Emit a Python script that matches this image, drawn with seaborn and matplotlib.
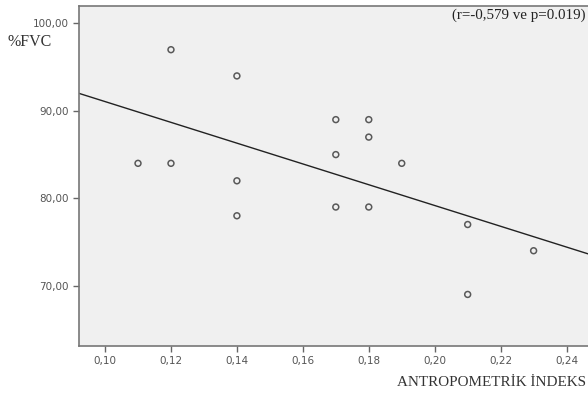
import matplotlib
matplotlib.use("Agg")
import matplotlib.pyplot as plt
import pandas as pd
import seaborn as sns

# antropometrik indeks vs %FVC
indeks = [0.11, 0.12, 0.12, 0.14, 0.14, 0.14, 0.17, 0.17, 0.17,
          0.18, 0.18, 0.18, 0.19, 0.21, 0.21, 0.23]
fvc = [84, 97, 84, 94, 82, 78, 89, 85, 79,
       89, 87, 79, 84, 77, 69, 74]
x_ticks = [0.10, 0.12, 0.14, 0.16, 0.18, 0.20, 0.22, 0.24]
y_ticks = [70, 80, 90, 100]

df = pd.DataFrame({"indeks": indeks, "fvc": fvc})

sns.set_style("ticks")
serif = ["Liberation Serif", "DejaVu Serif"]

fig = plt.figure(figsize=(5.88, 3.94), dpi=100)
ax = fig.add_axes([79 / 588, 48 / 394, 1 - 79 / 588, 340 / 394])
ax.set_facecolor("#f0f0f0")
# limits first so the fit line spans the whole axis
ax.set_xlim(0.0921, 0.2465)
ax.set_ylim(63.1, 102.0)

sns.regplot(data=df, x="indeks", y="fvc", ax=ax, ci=None, truncate=False,
            scatter_kws=dict(s=18, facecolors="none", edgecolors="#333333", linewidths=1.1),
            line_kws=dict(color="#222222", linewidth=1.0))

ax.set_xlim(0.0921, 0.2465)
ax.set_ylim(63.1, 102.0)
ax.set_xticks(x_ticks)
ax.set_xticklabels([f"{v:.2f}".replace(".", ",") for v in x_ticks])
ax.set_yticks(y_ticks)
ax.set_yticklabels([f"{v:.2f}".replace(".", ",") for v in y_ticks])
ax.tick_params(axis="both", direction="out", length=4, width=1, color="#666666",
               labelsize=7.5, labelcolor="#555555")
ax.set_xlabel("")
ax.set_ylabel("")
for side in ["left", "bottom", "top"]:
    ax.spines[side].set_color("#777777")
    ax.spines[side].set_linewidth(1.2)
ax.spines["top"].set_visible(True)
ax.spines["right"].set_visible(False)

fig.text(7 / 588, 1 - 42 / 394, "%FVC", family=serif, fontsize=11.5,
         color="#333333", va="center", ha="left")
fig.text(586 / 588, 1 - 15 / 394, "(r=-0,579 ve p=0.019)", family=serif,
         fontsize=10.8, color="#222222", va="center", ha="right")
fig.text(586 / 588, 1 - 382 / 394, "ANTROPOMETRİK İNDEKS", family=serif,
         fontsize=10.9, color="#333333", va="center", ha="right")

fig.savefig("out.png", dpi=100)
plt.close(fig)
